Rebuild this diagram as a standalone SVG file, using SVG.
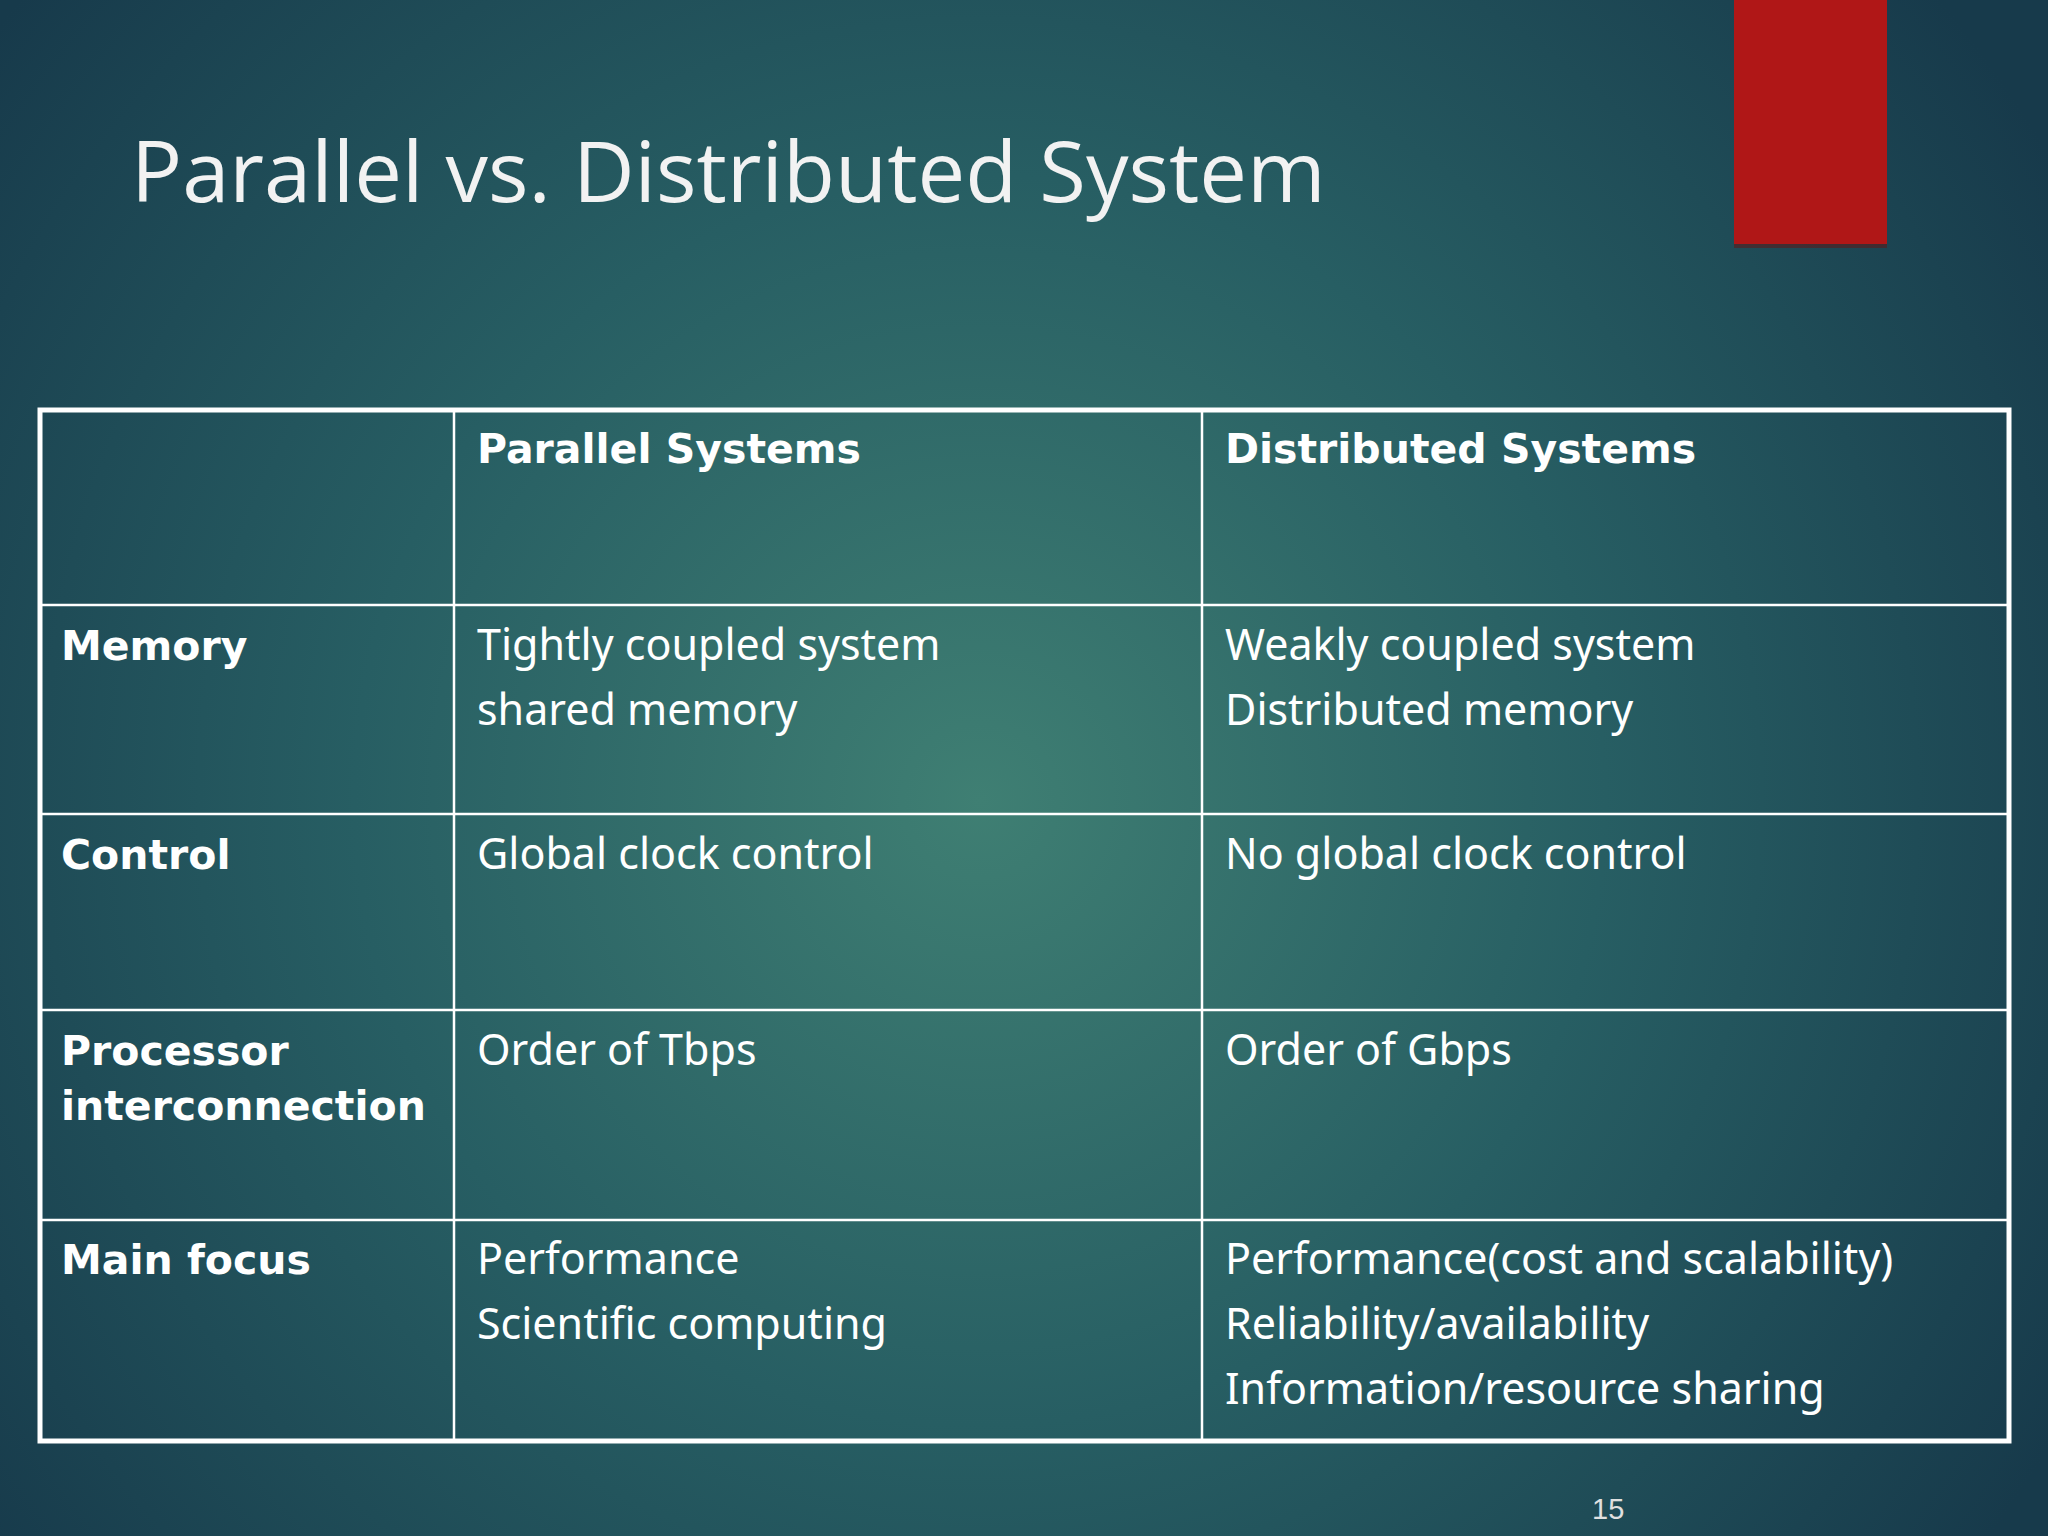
<svg xmlns="http://www.w3.org/2000/svg" width="2048" height="1536" viewBox="0 0 2048 1536">
<defs>
<radialGradient id="bg" cx="980" cy="800" r="1250" gradientUnits="userSpaceOnUse">
<stop offset="0" stop-color="#3f7f73"/>
<stop offset="0.5" stop-color="#275e63"/>
<stop offset="1" stop-color="#173a4b"/>
</radialGradient>
<style>
.h{font-family:"DejaVu Sans",sans-serif;font-weight:bold;font-size:41px;fill:#fff}
.c{font-family:"Noto Sans","Open Sans",sans-serif;font-size:43px;fill:#fff}
.l{stroke:#fff;stroke-width:2.5;fill:none}
</style>
</defs>
<rect width="2048" height="1536" fill="url(#bg)"/>
<rect x="1734" y="0" width="153" height="244" fill="#b01717"/>
<rect x="1734" y="244" width="153" height="4" fill="#5a1a1a" opacity="0.6"/>
<text x="131" y="202" font-family="Open Sans, Noto Sans, sans-serif" font-size="85" fill="#f2f2f2">Parallel vs. Distributed System</text>
<g id="table">
<rect x="40" y="410" width="1969" height="1031" stroke="#fff" stroke-width="5" fill="none"/>
<path class="l" d="M454 410V1441M1202 410V1441M40 605H2009M40 814H2009M40 1010H2009M40 1220H2009"/>
</g>
<g id="header">
<text class="h" x="477" y="463">Parallel Systems</text>
<text class="h" x="1225" y="463">Distributed Systems</text>
</g>
<g id="row-memory">
<text class="h" x="61" y="660">Memory</text>
<text class="c" x="477" y="660">Tightly coupled system</text>
<text class="c" x="477" y="725">shared memory</text>
<text class="c" x="1225" y="660">Weakly coupled system</text>
<text class="c" x="1225" y="725">Distributed memory</text>
</g>
<g id="row-control">
<text class="h" x="61" y="869">Control</text>
<text class="c" x="477" y="869">Global clock control</text>
<text class="c" x="1225" y="869">No global clock control</text>
</g>
<g id="row-proc">
<text class="h" x="61" y="1065">Processor</text>
<text class="h" x="61" y="1120">interconnection</text>
<text class="c" x="477" y="1065">Order of Tbps</text>
<text class="c" x="1225" y="1065">Order of Gbps</text>
</g>
<g id="row-focus">
<text class="h" x="61" y="1274">Main focus</text>
<text class="c" x="477" y="1274">Performance</text>
<text class="c" x="477" y="1339">Scientific computing</text>
<text class="c" x="1225" y="1274">Performance(cost and scalability)</text>
<text class="c" x="1225" y="1339">Reliability/availability</text>
<text class="c" x="1225" y="1404">Information/resource sharing</text>
</g>
<text x="1592" y="1519" font-family="Liberation Sans, sans-serif" font-size="29" fill="#e0e0e0">15</text>
</svg>
